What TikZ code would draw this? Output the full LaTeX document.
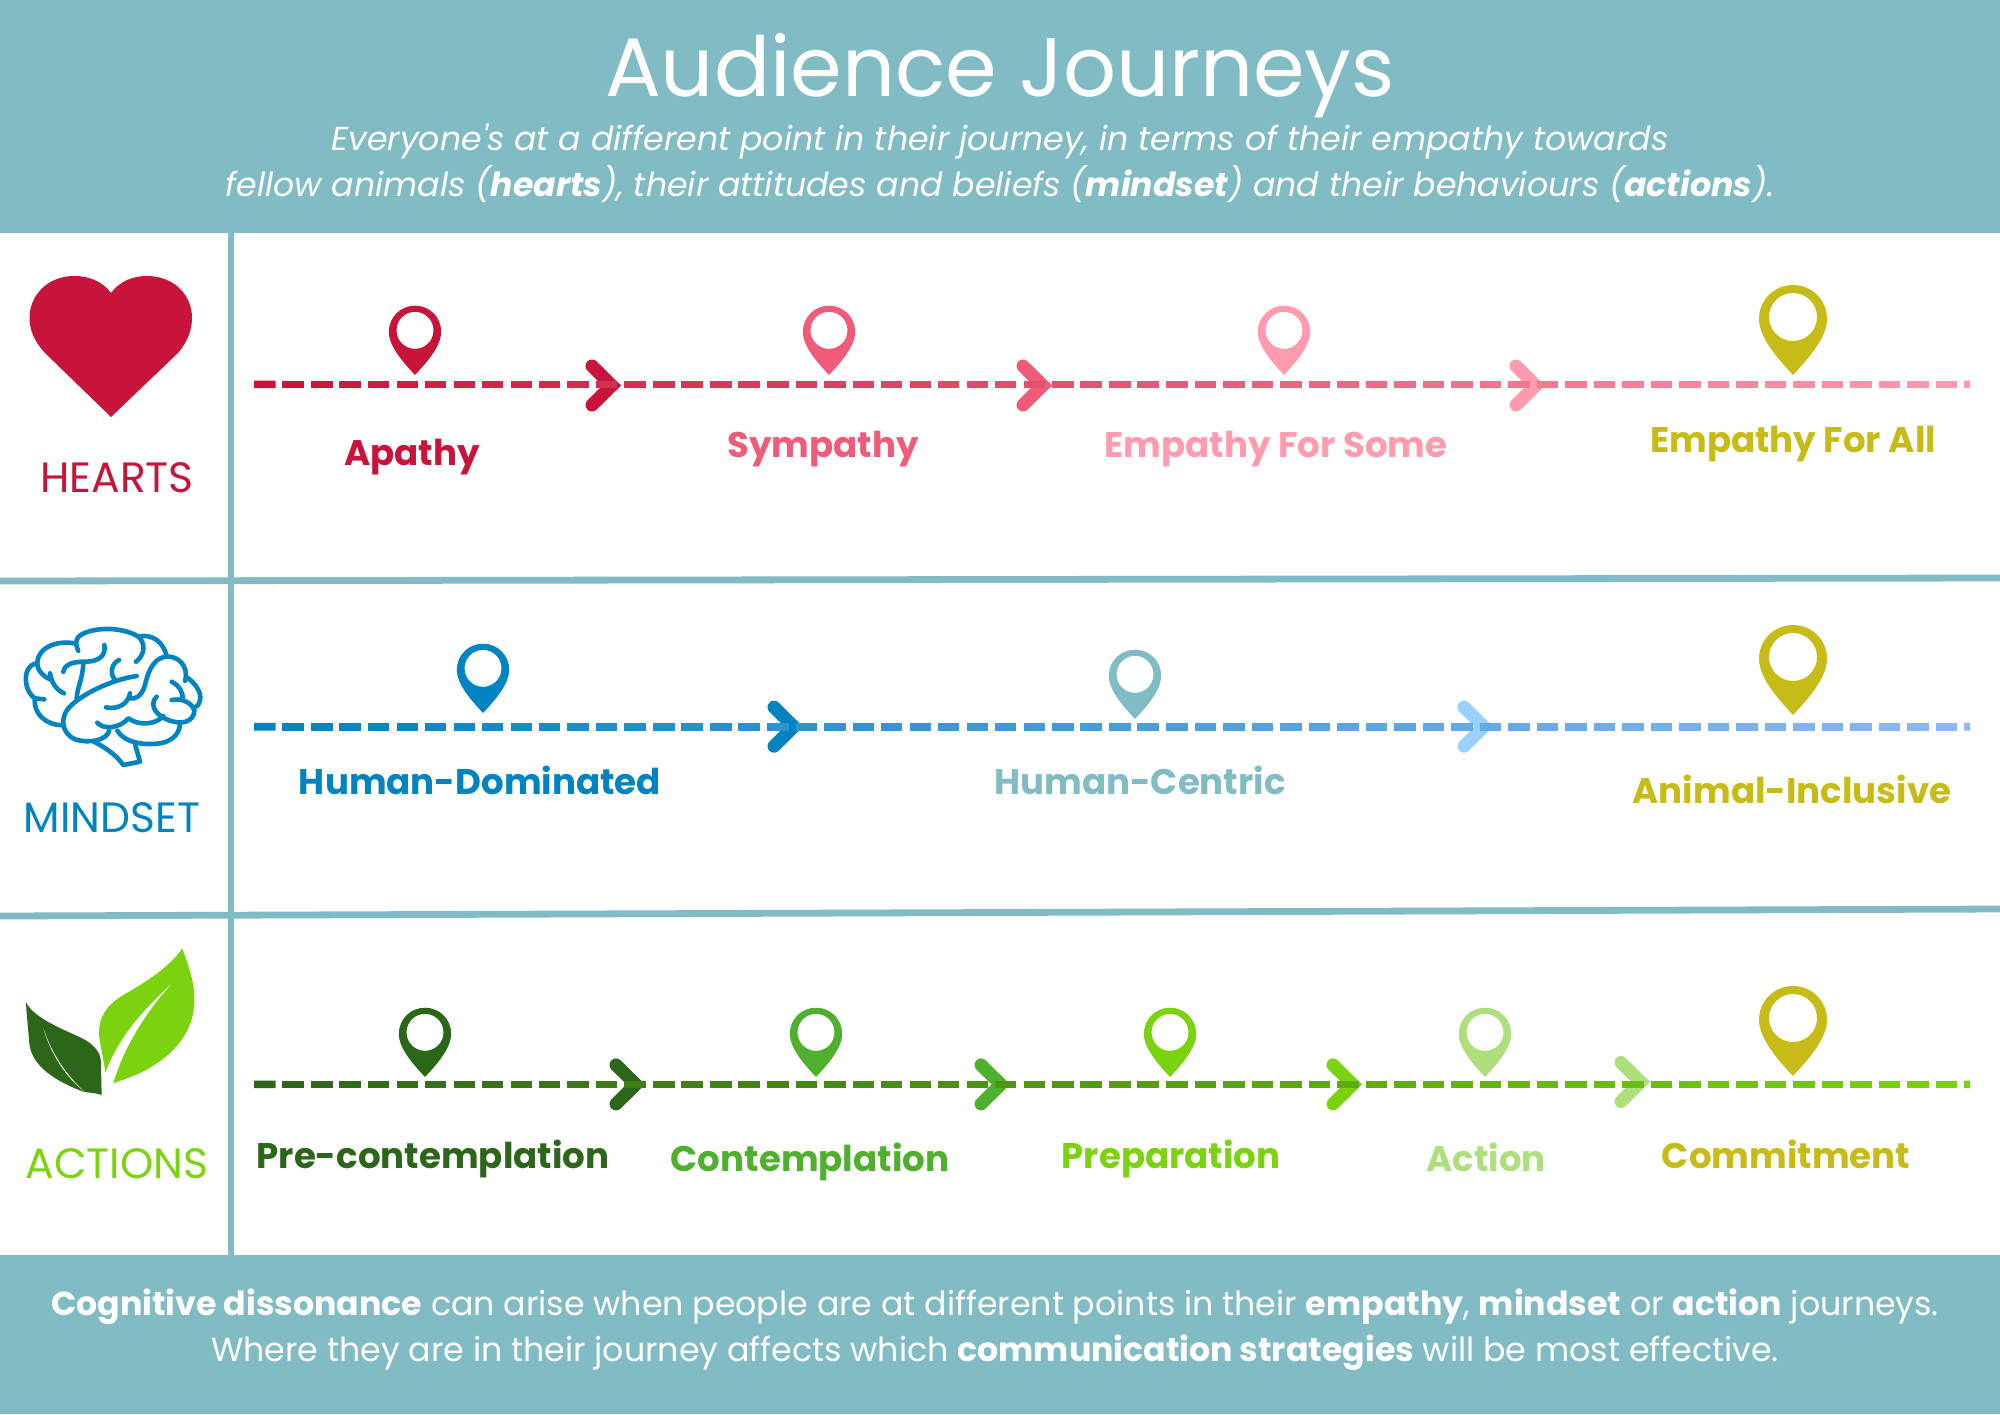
\documentclass[tikz,border=0pt]{standalone}
\usepackage{fontspec}
\setmainfont{Poppins}
\newfontfamily\subf{Poppins}
\usetikzlibrary{calc}
\definecolor{teal}{HTML}{81BCC5}
\definecolor{hred}{HTML}{C8143A}
\definecolor{hmid}{HTML}{EF5B79}
\definecolor{hpink}{HTML}{FF9BAE}
\definecolor{gold}{HTML}{C7BC17}
\definecolor{mblue}{HTML}{0083C1}
\definecolor{mlite}{HTML}{99D0FF}
\definecolor{mend}{HTML}{8FB8F5}
\definecolor{adark}{HTML}{2C6618}
\definecolor{amid}{HTML}{4FB02E}
\definecolor{agreen}{HTML}{7AD30E}
\definecolor{apale}{HTML}{AEDF7D}
\tikzset{
  lab/.style={anchor=base,font=\bfseries\fontsize{17.8}{20}\selectfont,inner sep=0pt},
  cat/.style={anchor=base,font=\fontsize{21.2}{24}\selectfont,inner sep=0pt},
  band/.style={fill=teal,draw=none},
  rule/.style={draw=teal,line width=3.4pt},
  chev/.style={line width=6.5pt,line cap=round,miter limit=10,line join=miter},
  brainline/.style={draw=mblue,line width=2.3pt,line cap=round,line join=round},
}
% \pinmark{name}{x}{tip y}{scale}{colour}
\newcommand{\pinmark}[5]{%
  \coordinate (#1) at (#2,#3);
  \fill[#5,even odd rule,shift={(#1)},scale=#4]
    (0,0) .. controls (-12,-13) and (-34,-36) .. (-34,-56)
    .. controls (-34,-75) and (-19,-90) .. (0,-90)
    .. controls (19,-90) and (34,-75) .. (34,-56)
    .. controls (34,-36) and (12,-13) .. (0,0) -- cycle
    (24,-58) .. controls (24,-71.3) and (13.3,-82) .. (0,-82)
    .. controls (-13.3,-82) and (-24,-71.3) .. (-24,-58)
    .. controls (-24,-44.7) and (-13.3,-34) .. (0,-34)
    .. controls (13.3,-34) and (24,-44.7) .. (24,-58) -- cycle;
}
% \dashrun{from}{to}{colA}{colB}: dashed line fading from colA to colB
\newcommand{\dashrun}[4]{%
  \foreach \i in {0,...,60}{%
    \pgfmathsetmacro\ta{\i*28.5/1716}%
    \pgfmathsetmacro\tb{min(1,(\i*28.5+21.5)/1716)}%
    \pgfmathtruncatemacro\pp{100*\i/60}%
    \draw[#4!\pp!#3,line width=3.8pt] ($(#1)!\ta!(#2)$) -- ($(#1)!\tb!(#2)$);
  }%
}
% \chevron{name}{x}{y}{colour}
\newcommand{\chevron}[4]{%
  \coordinate (#1) at (#2,#3);
  \draw[chev,#4] ($(#1)+(-29,-19.5)$) -- ($(#1)+(-9.2,0)$) -- ($(#1)+(-29,19.5)$);
}
\begin{document}
\begin{tikzpicture}[x=0.5pt,y=-0.5pt]
\useasboundingbox (0,0) rectangle (2000,1414);
\fill[white] (0,0) rectangle (2000,1414);
% bands and rules
\path[band] (0,0) rectangle (2000,232.5);
\path[band] (0,1255) rectangle (2000,1414);
\draw[rule] (231,232) -- (231,1256);
\draw[rule] (0,581) -- (2000,578);
\draw[rule] (0,916) -- (2000,909);
% header
\node[white,anchor=base,inner sep=0pt,font=\fontsize{41.5}{48}\selectfont] (title) at (1000,96) {Audience Journeys};
\node[white,anchor=base,inner sep=0pt,font=\subf\itshape\fontsize{16.6}{20}\selectfont] (sub1) at (1000,150) {Everyone's at a different point in their journey, in terms of their empathy towards};
\node[white,anchor=base,inner sep=0pt,font=\subf\itshape\fontsize{16.6}{20}\selectfont] (sub2) at (1000,196) {fellow animals (\textbf{hearts}), their attitudes and beliefs (\textbf{mindset}) and their behaviours (\textbf{actions}).};
% footer
\node[white,anchor=base,inner sep=0pt,font=\fontsize{16.6}{20}\selectfont] (foot1) at (995,1315) {\textbf{Cognitive dissonance} can arise when people are at different points in their \textbf{empathy}, \textbf{mindset} or \textbf{action} journeys.};
\node[white,anchor=base,inner sep=0pt,font=\fontsize{16.6}{20}\selectfont] (foot2) at (995,1361) {Where they are in their journey affects which \textbf{communication strategies} will be most effective.};
% heart
\fill[hred] (111,417) -- (45,353) .. controls (33,340) and (29.5,328) .. (29.5,318)
  .. controls (29.5,295) and (48,276) .. (74,276)
  .. controls (90,276) and (103,282) .. (111,293)
  .. controls (119,282) and (132,276) .. (147,276)
  .. controls (174,276) and (192,295) .. (192,318)
  .. controls (192,328) and (189,340) .. (178,353) -- cycle;
% brain
\begin{scope}[shift={(0,600)},scale=1/3]
\draw[brainline] (235,152) .. controls (222,125) and (228,105) .. (265,95) .. controls (320,78) and (385,90) .. (415,110) .. controls (455,100) and (490,125) .. (500,168);
\draw[brainline] (225,130) .. controls (165,120) and (112,145) .. (112,190) .. controls (112,215) and (135,232) .. (155,240);
\draw[brainline] (150,220) .. controls (155,250) and (170,270) .. (192,280);
\draw[brainline] (112,190) .. controls (85,192) and (75,220) .. (78,245) .. controls (80,270) and (95,290) .. (105,295) -- (133,298);
\draw[brainline] (105,295) .. controls (98,340) and (140,378) .. (190,375);
\draw[brainline] (410,228) .. controls (330,240) and (240,285) .. (205,325) .. controls (180,355) and (185,400) .. (225,418) .. controls (270,432) and (320,420) .. (328,392);
\draw[brainline] (282,425) .. controls (310,440) and (345,460) .. (370,495) -- (420,485) -- (405,432);
\draw[brainline] (352,392) .. controls (370,425) and (430,440) .. (490,428) .. controls (525,418) and (540,395) .. (540,368);
\draw[brainline] (292,368) .. controls (310,390) and (360,385) .. (385,355) .. controls (420,380) and (470,372) .. (490,348);
\draw[brainline] (470,290) .. controls (450,310) and (460,340) .. (500,358) .. controls (530,372) and (570,372) .. (580,345) .. controls (585,335) and (583,325) .. (578,320);
\draw[brainline] (555,243) .. controls (568,200) and (535,165) .. (495,170) .. controls (455,178) and (442,225) .. (435,255) .. controls (425,290) and (405,298) .. (392,295);
\draw[brainline] (390,280) .. controls (385,310) and (355,330) .. (318,322);
\draw[brainline] (565,235) .. controls (590,255) and (605,280) .. (600,300) .. controls (597,315) and (590,322) .. (580,325);
\draw[brainline] (515,300) .. controls (545,295) and (565,305) .. (578,320);
\draw[brainline] (515,245) .. controls (540,258) and (550,280) .. (548,298);
\draw[brainline] (190,215) .. controls (195,190) and (225,185) .. (255,185) .. controls (300,185) and (318,165) .. (313,135);
\draw[brainline] (250,190) .. controls (248,240) and (230,265) .. (230,298);
\draw[brainline] (357,180) .. controls (335,190) and (328,220) .. (345,240);
\draw[brainline] (415,110) .. controls (438,130) and (435,165) .. (408,185);
\end{scope}
% leaves
\begin{scope}[shift={(0,920)},scale=1/3]
\fill[adark] (78,247) .. controls (100,290) and (170,320) .. (225,345) .. controls (280,368) and (307,395) .. (303,440) -- (305,525) .. controls (285,518) and (265,518) .. (250,515) .. controls (170,485) and (95,440) .. (88,370) .. controls (85,330) and (80,290) .. (78,247) -- cycle;
\fill[white] (130,325) .. controls (155,400) and (200,468) .. (255,516) .. controls (195,470) and (152,400) .. (130,325) -- cycle;
\fill[agreen] (547,85) .. controls (570,150) and (585,190) .. (583,250) .. controls (580,320) and (540,385) .. (470,430) .. controls (430,460) and (380,475) .. (340,490) .. controls (365,400) and (430,280) .. (528,178) .. controls (440,260) and (360,340) .. (316,458) .. controls (312,420) and (300,380) .. (297,340) .. controls (297,290) and (320,255) .. (370,225) .. controls (440,185) and (510,140) .. (547,85) -- cycle;
\end{scope}
% category labels
\node[cat,hred] (hearts) at (117,492) {HEARTS};
\node[cat,mblue] (mindset) at (112,832) {MINDSET};
\node[cat,agreen] (actions) at (117,1178) {ACTIONS};
% HEARTS row
\coordinate (hs) at (254,384.4); \coordinate (he) at (1970,384.4);
\chevron{hc1}{621}{385.5}{hred}
\chevron{hc2}{1052}{385.5}{hmid}
\chevron{hc3}{1545}{385.5}{hpink}
\dashrun{hs}{he}{hred}{hpink}
\pinmark{hp1}{415}{375}{0.77}{hred}
\pinmark{hp2}{829}{375}{0.77}{hmid}
\pinmark{hp3}{1284}{375}{0.77}{hpink}
\pinmark{hp4}{1793}{375}{1}{gold}
\node[lab,hred] (apathy) at (412,465) {Apathy};
\node[lab,hmid] (sympathy) at (823,457) {Sympathy};
\node[lab,hpink] (somee) at (1276,457) {Empathy For Some};
\node[lab,gold] (alle) at (1793,452) {Empathy For All};
% MINDSET row
\coordinate (ms) at (254,726.7); \coordinate (me) at (1970,726.7);
\chevron{mc1}{803}{726.7}{mblue}
\chevron{mc2}{1493}{726.7}{mlite}
\dashrun{ms}{me}{mblue}{mend}
\pinmark{mp1}{483}{713}{0.77}{mblue}
\pinmark{mp2}{1135}{719}{0.77}{teal}
\pinmark{mp3}{1793}{715}{1}{gold}
\node[lab,mblue] (hdom) at (480,794) {Human-Dominated};
\node[lab,teal] (hcen) at (1140,794) {Human-Centric};
\node[lab,gold] (ainc) at (1792,803) {Animal-Inclusive};
% ACTIONS row
\coordinate (as) at (254,1084.4); \coordinate (ae) at (1970,1084.4);
\chevron{ac1}{645}{1084.4}{adark}
\chevron{ac2}{1010}{1084.4}{amid}
\chevron{ac3}{1362}{1084.4}{agreen}
\chevron{ac4}{1650}{1082}{apale}
\dashrun{as}{ae}{adark}{agreen}
\pinmark{ap1}{425}{1077}{0.77}{adark}
\pinmark{ap2}{816}{1077}{0.77}{amid}
\pinmark{ap3}{1170}{1077}{0.77}{agreen}
\pinmark{ap4}{1485}{1077}{0.77}{apale}
\pinmark{ap5}{1793}{1076}{1}{gold}
\node[lab,adark] (prec) at (433,1168) {Pre-contemplation};
\node[lab,amid] (cont) at (810,1171) {Contemplation};
\node[lab,agreen] (prep) at (1171,1168) {Preparation};
\node[lab,apale] (actn) at (1486,1171) {Action};
\node[lab,gold] (comm) at (1786,1168) {Commitment};
\end{tikzpicture}
\end{document}
